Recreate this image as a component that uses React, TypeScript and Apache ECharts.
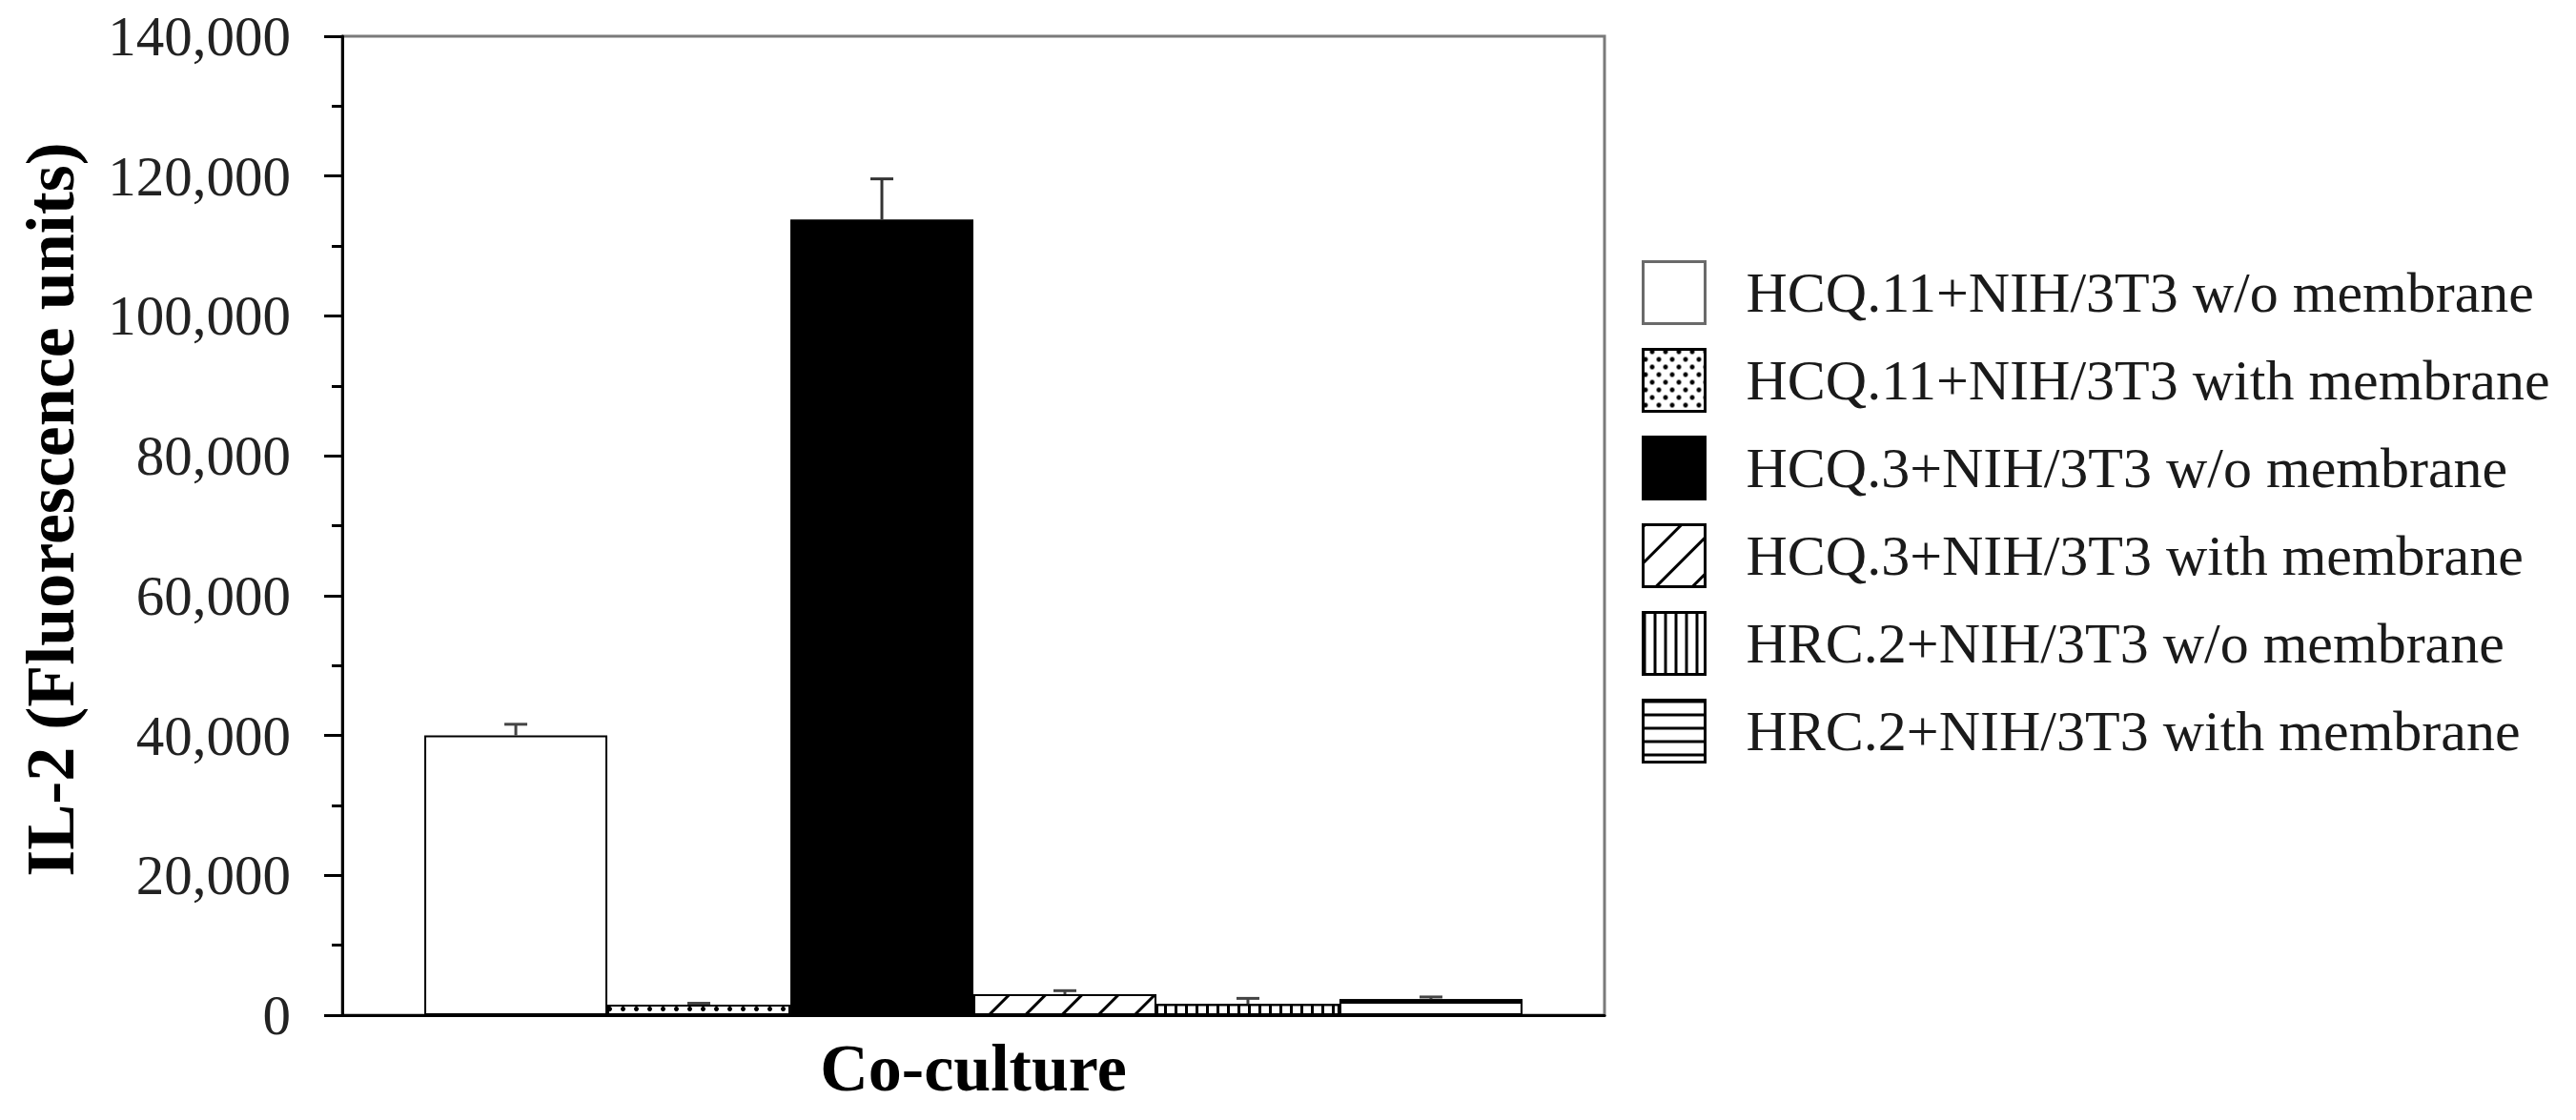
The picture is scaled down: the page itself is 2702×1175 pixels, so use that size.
import React, { useEffect, useRef } from "react";
import * as echarts from "echarts";

const categories = ["Co-culture"];
const seriesNames = [
  "HCQ.11+NIH/3T3 w/o membrane",
  "HCQ.11+NIH/3T3 with membrane",
  "HCQ.3+NIH/3T3 w/o membrane",
  "HCQ.3+NIH/3T3 with membrane",
  "HRC.2+NIH/3T3 w/o membrane",
  "HRC.2+NIH/3T3 with membrane",
];
const values = [40000, 1500, 113800, 3000, 1600, 2300];
const errors = [1600, 200, 5800, 500, 800, 300];
const yTicks = [0, 20000, 40000, 60000, 80000, 100000, 120000, 140000];

const FONT = '"Liberation Serif", "Times New Roman", serif';
const CAT_GAP = 0.13;

const decals: any[] = [
  null,
  {
    symbol: "circle",
    symbolSize: 1,
    dashArrayX: [[5, 9], [0, 7, 5, 2]],
    dashArrayY: [5, 3],
    color: "#000",
  },
  null,
  {
    symbol: "rect",
    symbolSize: 1,
    dashArrayX: [1, 0],
    dashArrayY: [3, 24],
    rotation: -Math.PI / 4,
    color: "#000",
  },
  {
    symbol: "rect",
    symbolSize: 1,
    dashArrayX: [3, 8],
    dashArrayY: [1, 0],
    color: "#000",
  },
  {
    symbol: "rect",
    symbolSize: 1,
    dashArrayX: [1, 0],
    dashArrayY: [3, 11],
    color: "#000",
  },
];
const fills = ["#fff", "#fff", "#000", "#fff", "#fff", "#fff"];

export default function App() {
  const ref = useRef<HTMLDivElement>(null);
  useEffect(() => {
    if (!ref.current) return;
    const chart = echarts.init(ref.current, undefined, { renderer: "svg" });

    const barSeries = seriesNames.map((name, i) => ({
      name,
      type: "bar",
      barGap: "0%",
      barCategoryGap: CAT_GAP * 100 + "%",
      data: [values[i]],
      itemStyle: {
        color: fills[i],
        borderColor: "#000",
        borderWidth: 2,
        decal: decals[i] || undefined,
      },
      z: 2,
    }));

    const errData = values.map((v, i) => [0, v, errors[i], i]);

    const option: any = {
      animation: false,
      backgroundColor: "#fff",
      textStyle: { fontFamily: FONT },
      grid: {
        left: 359,
        top: 38,
        right: 1019,
        bottom: 110,
        show: true,
        borderColor: "#7a7a7a",
        borderWidth: 3,
        containLabel: false,
      },
      legend: {
        orient: "vertical",
        left: 1717,
        top: 268,
        itemWidth: 65,
        itemHeight: 65,
        itemGap: 24,
        icon: "rect",
        selectedMode: false,
        data: seriesNames.map((name, i) => ({
          name,
          itemStyle: {
            color: fills[i],
            borderColor: i === 0 ? "#6a6a6a" : "#000",
            borderWidth: 3,
            decal: decals[i] || undefined,
          },
        })),
        textStyle: {
          fontFamily: FONT,
          fontSize: 60,
          color: "#1a1a1a",
          padding: [0, 0, 0, 38],
          lineHeight: 65,
        },
      },
      xAxis: {
        type: "category",
        data: categories,
        axisLine: { show: true, lineStyle: { color: "#000", width: 3 } },
        axisTick: { show: false },
        axisLabel: {
          fontFamily: FONT,
          fontWeight: "bold",
          fontSize: 70,
          color: "#000",
          margin: 20,
        },
      },
      yAxis: {
        type: "value",
        min: yTicks[0],
        max: yTicks[yTicks.length - 1],
        interval: yTicks[1] - yTicks[0],
        name: "IL-2 (Fluorescence units)",
        nameLocation: "middle",
        nameRotate: 90,
        nameGap: 270,
        nameTextStyle: {
          fontFamily: FONT,
          fontWeight: "bold",
          fontSize: 72,
          color: "#000",
          padding: [0, 0, 0, 34],
        },
        axisLine: { show: true, lineStyle: { color: "#000", width: 3 } },
        axisTick: { show: true, length: 19, lineStyle: { color: "#000", width: 3 } },
        minorTick: { show: true, splitNumber: 2, length: 11, lineStyle: { color: "#000", width: 3 } },
        splitLine: { show: false },
        axisLabel: {
          fontFamily: FONT,
          fontSize: 59,
          color: "#222",
          margin: 54,
          formatter: (v: number) => v.toLocaleString("en-US"),
        },
      },
      series: [
        ...barSeries,
        {
          type: "custom",
          name: "error",
          data: errData,
          encode: { x: 0, y: 1 },
          z: 5,
          renderItem: (params: any, api: any) => {
            const v = api.value(1);
            const e = api.value(2);
            const idx = api.value(3);
            const base = api.coord([0, v]);
            const top = api.coord([0, v + e]);
            const band = api.size([1, 0])[0];
            const barW = (band * (1 - CAT_GAP)) / seriesNames.length;
            const cx = base[0] + (idx - (seriesNames.length - 1) / 2) * barW;
            const half = 12;
            const style = { stroke: idx === 2 ? "#333" : "#444", lineWidth: 3 };
            return {
              type: "group",
              children: [
                { type: "line", shape: { x1: cx, y1: base[1], x2: cx, y2: top[1] }, style },
                { type: "line", shape: { x1: cx - half, y1: top[1], x2: cx + half, y2: top[1] }, style },
              ],
            };
          },
        },
      ],
    };
    chart.setOption(option);
    return () => chart.dispose();
  }, []);
  return (
    <div
      ref={ref}
      style={{ position: "fixed", left: 0, top: 0, width: 2702, height: 1175, background: "#fff" }}
    />
  );
}
